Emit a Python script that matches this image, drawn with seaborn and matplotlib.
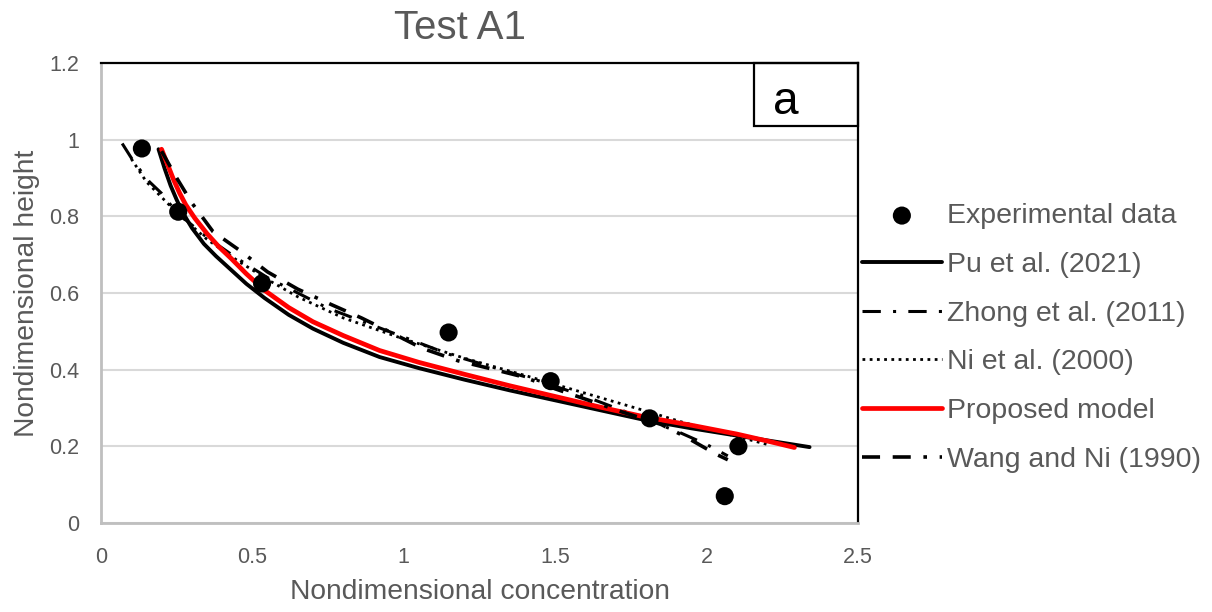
import numpy as np
import pandas as pd
import seaborn as sns
import matplotlib.pyplot as plt
from matplotlib.patches import Rectangle
from matplotlib.ticker import FuncFormatter

# experimental points
exp_x = [0.135, 0.255, 0.532, 1.148, 1.485, 1.812, 2.105, 2.06]
exp_y = [0.977, 0.812, 0.625, 0.497, 0.370, 0.273, 0.200, 0.070]

# Pu et al. (2021)
pu_x = [0.19, 0.21, 0.23, 0.25, 0.27, 0.30, 0.34, 0.38, 0.43, 0.48, 0.54, 0.62, 0.70, 0.80,
        0.92, 1.05, 1.20, 1.35, 1.50, 1.65, 1.80, 1.95, 2.10, 2.22, 2.34]
pu_y = [0.975, 0.925, 0.88, 0.843, 0.81, 0.77, 0.728, 0.696, 0.66, 0.624, 0.587, 0.543, 0.507,
        0.47, 0.433, 0.404, 0.374, 0.346, 0.32, 0.294, 0.268, 0.247, 0.228, 0.213, 0.198]

# Zhong et al. (2011)
zh_x = [0.07, 0.11, 0.16, 0.20, 0.25, 0.35, 0.45, 0.55, 0.65, 0.75, 0.85, 0.95, 1.05, 1.15,
        1.30, 1.45, 1.60, 1.75, 1.90, 2.00, 2.07]
zh_y = [0.99, 0.94, 0.89, 0.86, 0.81, 0.745, 0.69, 0.64, 0.60, 0.56, 0.53, 0.50, 0.47, 0.44,
        0.405, 0.37, 0.33, 0.285, 0.24, 0.205, 0.175]

# Ni et al. (2000)
ni_x = [0.10, 0.15, 0.20, 0.25, 0.35, 0.45, 0.55, 0.65, 0.80, 1.00, 1.20, 1.40, 1.55, 1.80,
        1.92, 2.07, 2.20]
ni_y = [0.95, 0.89, 0.85, 0.81, 0.74, 0.685, 0.635, 0.59, 0.535, 0.48, 0.43, 0.385, 0.35,
        0.292, 0.263, 0.232, 0.205]

# Proposed model
pm_x = [0.20, 0.22, 0.24, 0.26, 0.28, 0.31, 0.35, 0.39, 0.43, 0.48, 0.54, 0.62, 0.70, 0.80,
        0.92, 1.05, 1.20, 1.35, 1.50, 1.65, 1.80, 1.95, 2.10, 2.20, 2.29]
pm_y = [0.975, 0.935, 0.895, 0.86, 0.83, 0.795, 0.755, 0.72, 0.69, 0.65, 0.607, 0.562, 0.525,
        0.489, 0.45, 0.419, 0.388, 0.358, 0.33, 0.302, 0.276, 0.255, 0.232, 0.214, 0.197]

# Wang and Ni (1990)
wn_x = [0.20, 0.25, 0.30, 0.37, 0.46, 0.55, 0.65, 0.76, 0.86, 0.95, 1.06, 1.18, 1.30, 1.40,
        1.50, 1.63, 1.72, 1.85, 1.93, 2.03, 2.07]
wn_y = [0.97, 0.90, 0.835, 0.76, 0.71, 0.655, 0.61, 0.57, 0.535, 0.50, 0.456, 0.423, 0.40,
        0.38, 0.35, 0.315, 0.29, 0.257, 0.225, 0.18, 0.165]

x_ticks = [0, 0.5, 1, 1.5, 2, 2.5]
y_ticks = [0, 0.2, 0.4, 0.6, 0.8, 1, 1.2]

grey = '#595959'

sns.set_style("white")
plt.rcParams['font.family'] = ['Liberation Sans', 'DejaVu Sans']

fig = plt.figure(figsize=(12.12, 6.12), dpi=100)
ax = fig.add_axes([101 / 1212, 1 - 523 / 612, 757 / 1212, 460 / 612])

sns.scatterplot(x=exp_x, y=exp_y, ax=ax, color='black', s=170, edgecolor='none',
                label='Experimental data', zorder=5)
sns.lineplot(x=pu_x, y=pu_y, ax=ax, sort=False, color='black', linewidth=2.8,
             label='Pu et al. (2021)')
sns.lineplot(x=zh_x, y=zh_y, ax=ax, sort=False, color='black', linewidth=2.2,
             linestyle=(0, (6, 4, 1, 4)), label='Zhong et al. (2011)')
sns.lineplot(x=ni_x, y=ni_y, ax=ax, sort=False, color='black', linewidth=2.0,
             linestyle=(0, (1, 1.6)), label='Ni et al. (2000)')
sns.lineplot(x=pm_x, y=pm_y, ax=ax, sort=False, color='#ff0000', linewidth=3.4,
             label='Proposed model')
sns.lineplot(x=wn_x, y=wn_y, ax=ax, sort=False, color='black', linewidth=2.6,
             linestyle=(0, (5, 3.5, 5, 3.5, 1, 3.5)), label='Wang and Ni (1990)')

ax.set_xlim(0, 2.5)
ax.set_ylim(0, 1.2)
ax.set_xticks(x_ticks)
ax.set_yticks(y_ticks)
fmt = FuncFormatter(lambda v, p: '%g' % v)
ax.xaxis.set_major_formatter(fmt)
ax.yaxis.set_major_formatter(fmt)
ax.tick_params(axis='y', labelsize=15.5, colors=grey, length=0, pad=16)
ax.tick_params(axis='x', labelsize=15.5, colors=grey, length=0, pad=17)
ax.grid(axis='y', color='#d9d9d9', linewidth=1.5)
ax.set_axisbelow(True)

for side in ['left', 'bottom']:
    ax.spines[side].set_color('#bfbfbf')
    ax.spines[side].set_linewidth(2)
for side in ['top', 'right']:
    ax.spines[side].set_color('black')
    ax.spines[side].set_linewidth(1.6)

ax.set_xlabel('Nondimensional concentration', fontsize=20.3, color=grey, labelpad=8)
ax.set_ylabel('Nondimensional height', fontsize=20.3, color=grey, labelpad=6)

fig.text(460 / 1212, 1 - 28 / 612, 'Test A1', fontsize=29, color=grey,
         ha='center', va='center')

# panel label box
ax.add_patch(Rectangle((0.862, 0.863), 0.138, 0.137, transform=ax.transAxes,
                       fill=False, edgecolor='black', linewidth=1.6, zorder=6,
                       clip_on=False))
ax.text(0.905, 0.915, 'a', transform=ax.transAxes, fontsize=33, color='black',
        ha='center', va='center', zorder=7)

leg = ax.legend(loc='center left', bbox_to_anchor=(862 / 1212, 1 - 338 / 612),
                bbox_transform=fig.transFigure, frameon=False, fontsize=20.5,
                handlelength=2.8, handletextpad=0.2, labelspacing=0.8,
                borderpad=0, borderaxespad=0)
for t in leg.get_texts():
    t.set_color(grey)

fig.savefig('out.png', dpi=100)
